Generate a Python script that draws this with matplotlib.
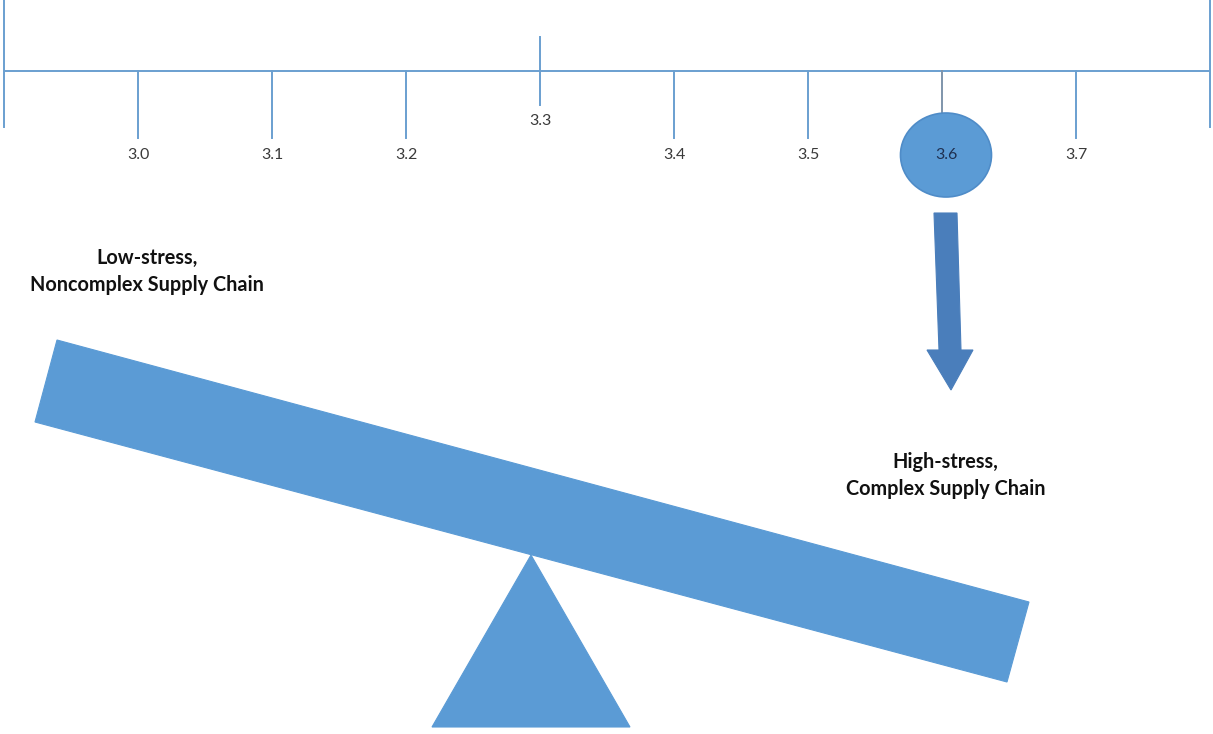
import matplotlib
matplotlib.use("Agg")
import matplotlib.pyplot as plt
from matplotlib.patches import Ellipse, Polygon

# ---- data ----
scale_min, scale_max = 2.9, 3.8
tick_values = [3.0, 3.1, 3.2, 3.3, 3.4, 3.5, 3.6, 3.7]
tick_labels = ["3.0", "3.1", "3.2", "3.3", "3.4", "3.5", "3.6", "3.7"]
raised_ticks = [3.3]
score = 3.6
left_label = ["Low-stress,", "Noncomplex Supply Chain"]
right_label = ["High-stress,", "Complex Supply Chain"]

# ---- style ----
W, H = 1213, 734
BLUE = "#5B9BD5"
LINE = "#6A9FD0"
ARROW = "#4A7EBB"
TXT = "#3a3a3a"
TICK_FS = 11.5
LABEL_FS = 14.3

fig = plt.figure(figsize=(W / 100, H / 100), dpi=100)
fig.patch.set_facecolor("white")

# pixel mapping for the value scale: 3.0 -> x=138, 0.1 -> 134 px
px_per_unit = 1340.0
x0_val = 3.0 - 138 / px_per_unit
x1_val = 3.0 + (W - 138) / px_per_unit

ax = fig.add_axes([0, 0, 1, 1])
ax.set_xlim(x0_val, x1_val)
ax.set_ylim(H, 0)
ax.axis("off")

art = fig.add_axes([0, 0, 1, 1])
art.set_xlim(0, W)
art.set_ylim(H, 0)
art.axis("off")
art.patch.set_alpha(0)

line_y = 71
lw = 1.4
# main scale line and end caps
ax.plot([scale_min, scale_max], [line_y, line_y], color=LINE, lw=lw, solid_capstyle="butt")
for v in (scale_min, scale_max):
    ax.plot([v, v], [0, 127], color=LINE, lw=lw)

for v, lab in zip(tick_values, tick_labels):
    if v in raised_ticks:
        ax.plot([v, v], [37, 105], color=LINE, lw=lw)
        ax.text(v, 121, lab, ha="center", va="center", fontsize=TICK_FS,
                family="Lato", color=TXT)
    elif abs(v - score) < 1e-9:
        ax.plot([v, v], [line_y, 113], color="#7f95ab", lw=lw)
    else:
        ax.plot([v, v], [line_y, 138], color=LINE, lw=lw)
        ax.text(v, 155, lab, ha="center", va="center", fontsize=TICK_FS,
                family="Lato", color=TXT)

# marker circle at the score
ax.add_patch(Ellipse((score + 4 / px_per_unit, 155), width=91 / px_per_unit, height=84,
                     facecolor=BLUE, edgecolor="#4f8cc8", lw=1.2, zorder=3))
ax.text(score + 4 / px_per_unit, 155, tick_labels[tick_values.index(score)],
        ha="center", va="center", fontsize=TICK_FS, family="Lato",
        color="#1f3050", zorder=4)

# down arrow
art.add_patch(Polygon([(934, 213), (957, 213), (961, 350), (973, 350), (951, 390),
                       (927, 350), (939, 350)], closed=True,
                      facecolor=ARROW, edgecolor=ARROW, lw=0.8))

# seesaw beam
art.add_patch(Polygon([(57, 340), (1029, 602), (1007, 682), (35, 422)], closed=True,
                      facecolor=BLUE, edgecolor=BLUE, lw=0.8))
# fulcrum
art.add_patch(Polygon([(531, 555), (630, 727), (432, 727)], closed=True,
                      facecolor=BLUE, edgecolor=BLUE, lw=0.8))

# labels
for (x, y), s in zip([(147, 258), (147, 285)], left_label):
    art.text(x, y, s, ha="center", va="center", fontsize=LABEL_FS,
             family="Lato", weight="bold", color="#111111")
for (x, y), s in zip([(945, 462), (946, 489)], right_label):
    art.text(x, y, s, ha="center", va="center", fontsize=LABEL_FS,
             family="Lato", weight="bold", color="#111111")

fig.savefig("out.png", dpi=100, facecolor="white")
